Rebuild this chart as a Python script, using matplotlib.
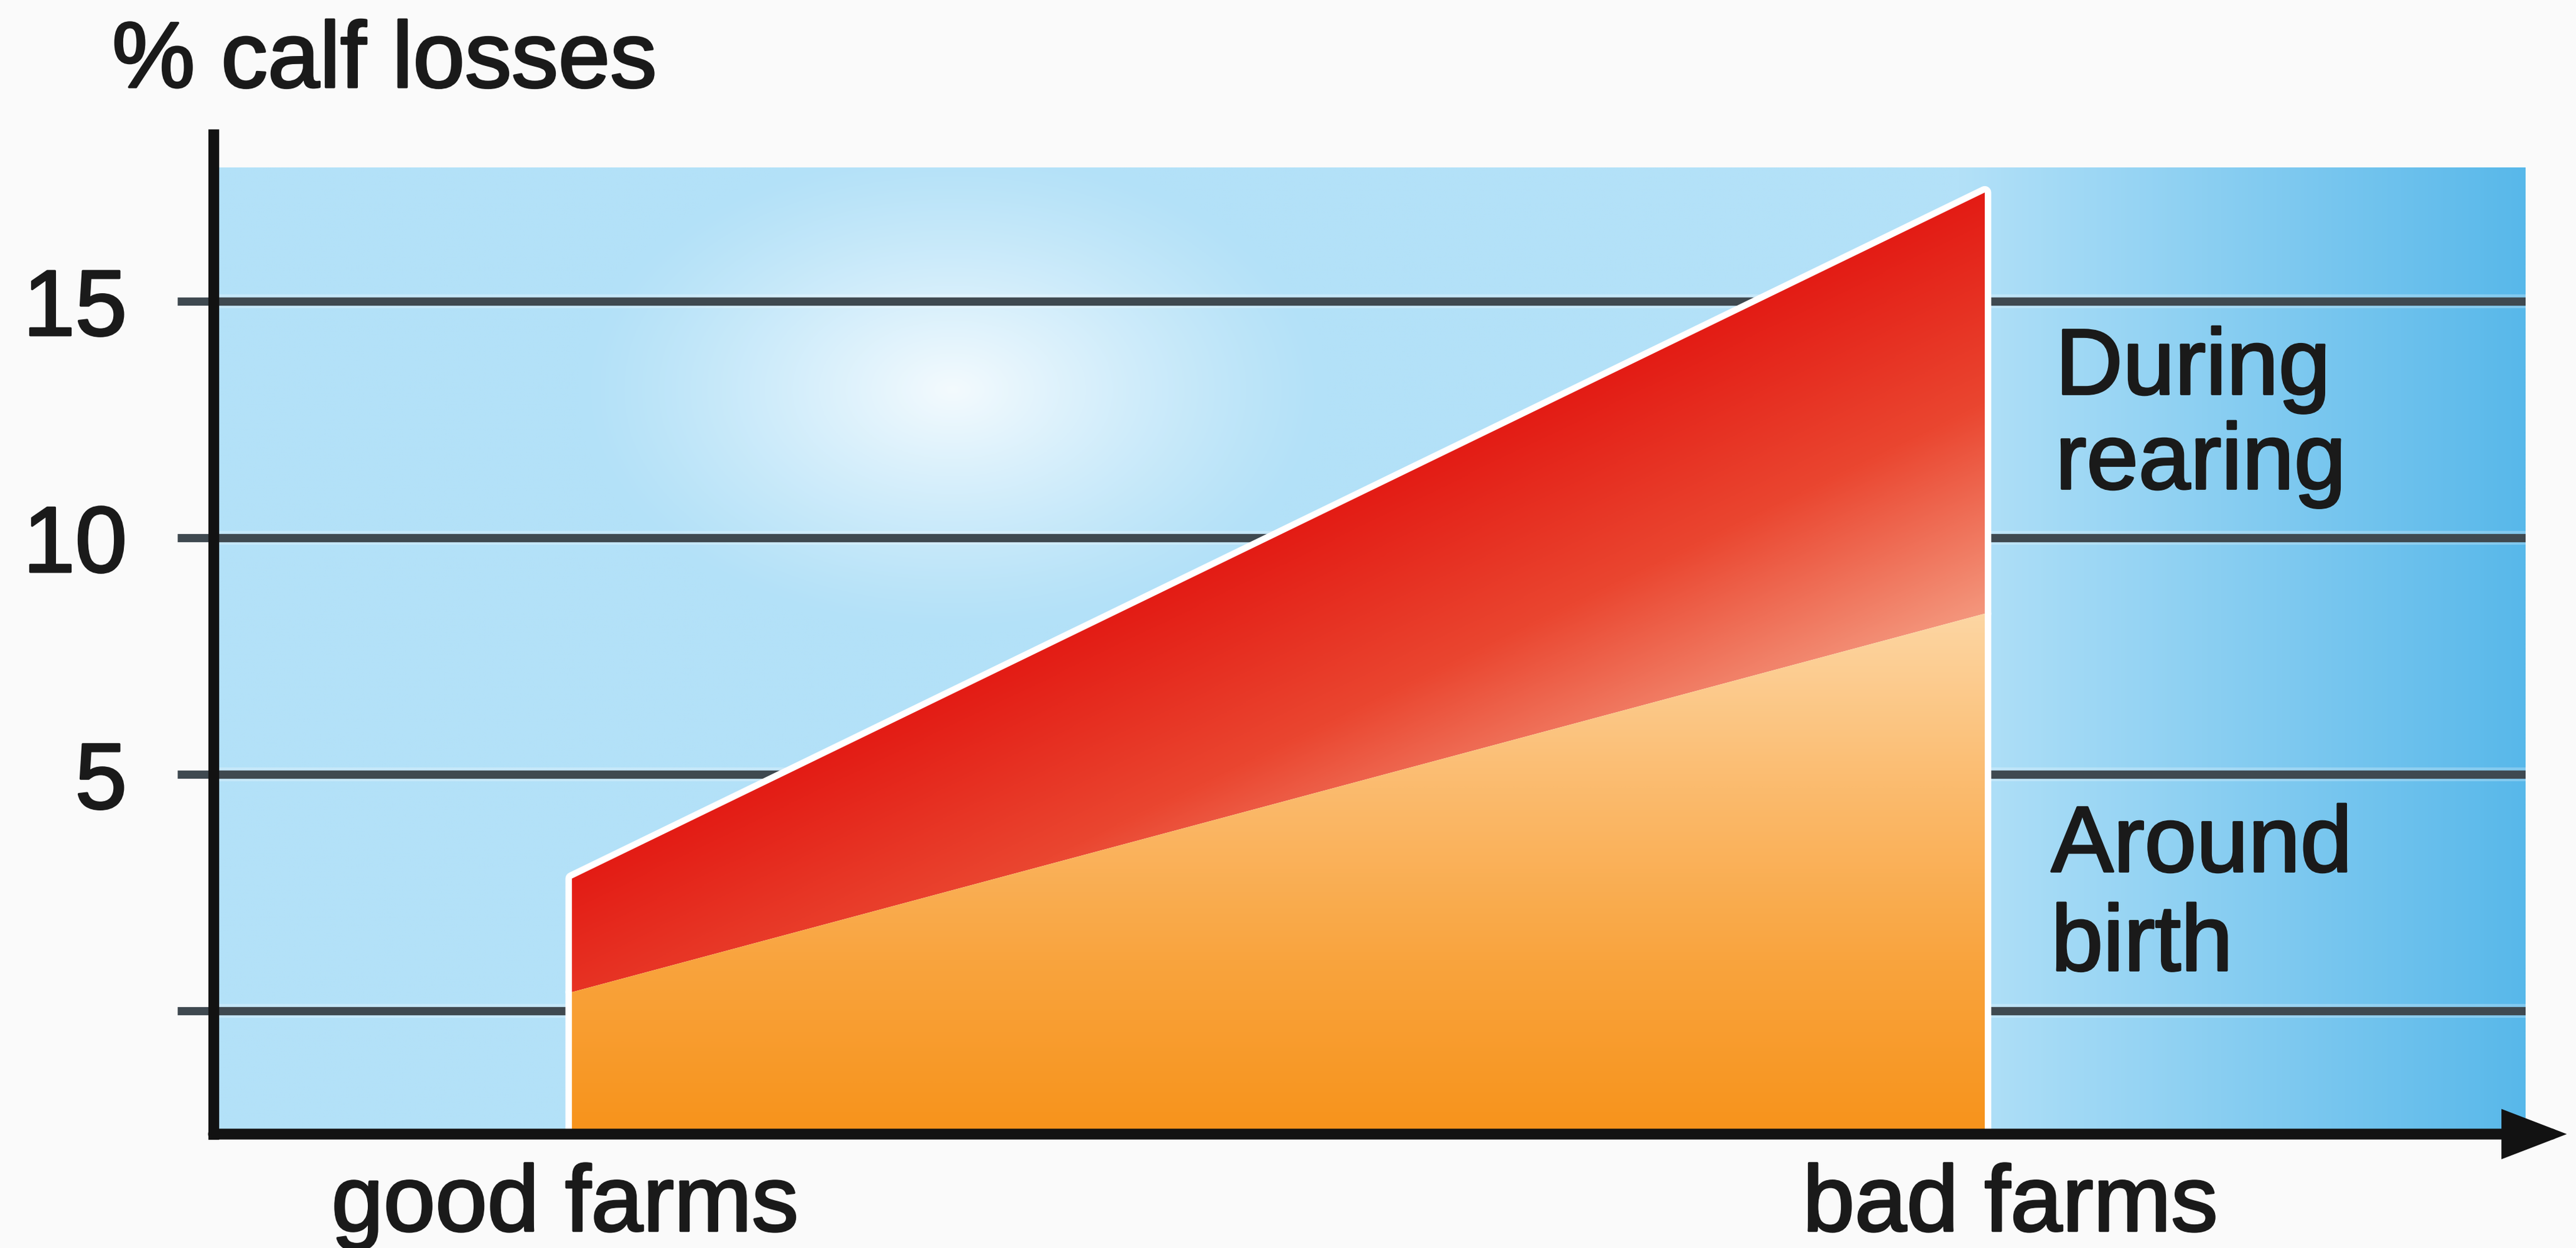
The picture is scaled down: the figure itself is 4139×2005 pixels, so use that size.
import numpy as np
import matplotlib.pyplot as plt
from matplotlib import patheffects as pe
from matplotlib.colors import LinearSegmentedColormap, to_rgb

plt.rcParams['font.family'] = ['Liberation Sans', 'DejaVu Sans']

# calf losses (%) from good to bad farms, stacked
farms = ["good farms", "bad farms"]
farm_x = [0.0, 1.0]
around_birth = [0.4, 8.4]
during_rearing = [2.4, 8.9]
y_ticks = [0, 5, 10, 15]
y_ticklabels = ["", "5", "10", "15"]

xs = np.array(farm_x)
birth = np.array(around_birth)
total = birth + np.array(during_rearing)

W, H, DPI = 4139, 2005, 100
fig = plt.figure(figsize=(W / DPI, H / DPI), dpi=DPI, facecolor="#fafafa")
# plot box in pixels: left 343, right 4058, top 269, bottom 1822
L, R, T, B = 343, 4058, 269, 1822
ax = fig.add_axes([L / W, 1 - B / H, (R - L) / W, (B - T) / H])
x0, x1 = -0.2537, 1.3828
y0, y1 = -2.6, 17.83
sx = (R - L) / (x1 - x0)   # px per x unit
sy = (B - T) / (y1 - y0)   # px per y unit
for s in ax.spines.values():
    s.set_visible(False)
ax.patch.set_visible(False)

# sky-blue panel with a soft white glow and darker right edge
nx, ny = 900, 360
GX, GY = np.meshgrid(np.linspace(0, 1, nx), np.linspace(0, 1, ny))
px = L + GX * (R - L)
py = B - GY * (B - T)
base = np.array(to_rgb("#b3e1f8"))
dark = np.array(to_rgb("#58b8ea"))
t = np.clip((px - 3150) / (R - 3150), 0, 1)[..., None]
bg = base * (1 - t) + dark * t
r = np.sqrt(((px - 1530) / 600) ** 2 + ((py - 625) / 390) ** 2)
w = (np.clip(1 - r, 0, 1) ** 1.2 * 0.85)[..., None]
bg = bg * (1 - w) + w
ax.imshow(bg, extent=(x0, x1, y0, y1), origin="lower", aspect="auto",
          zorder=0, interpolation="bilinear")

# text is a touch heavier than the plain regular face
ink = "#1a1a1a"
heavy = [pe.withStroke(linewidth=2.5, foreground=ink)]

# grid and y ticks
ax.set_yticks(y_ticks, y_ticklabels)
ax.set_xticks([])
ax.tick_params(axis="y", length=42, width=9.5, color="#3f4950", pad=58,
               labelsize=108, labelcolor=ink)
for lab in ax.get_yticklabels():
    lab.set_path_effects(heavy)
ax.grid(axis="y", color="#3f4950", linewidth=9.5)
ax.set_axisbelow(True)
for gl in ax.yaxis.get_gridlines():
    gl.set_path_effects([pe.withStroke(linewidth=16, foreground="white", alpha=0.25),
                         pe.Normal()])

# stacked areas, white rim underneath the gradients
lo = ax.fill_between(xs, y0, birth, facecolor="none", edgecolor="white",
                     linewidth=15, zorder=2)
hi = ax.fill_between(xs, birth, total, facecolor="none", edgecolor="white",
                     linewidth=15, zorder=2)

GXf, GYf = np.meshgrid(np.linspace(0, 1, 500), np.linspace(y0, total.max(), 700))
ext = (0, 1, y0, total.max())

# red band: shade by distance below its top edge
top = total[0] + (total[1] - total[0]) * GXf
theta = np.arctan((total[1] - total[0]) * sy / sx)
d = np.clip((top - GYf) * sy * np.cos(theta) / 610, 0, 1)
red_cm = LinearSegmentedColormap.from_list("red", ["#e31c15", "#ea4630", "#f4977d"])
im_hi = ax.imshow(d, cmap=red_cm, vmin=0, vmax=1, extent=ext, origin="lower",
                  aspect="auto", zorder=3, interpolation="bilinear")
im_hi.set_clip_path(hi.get_paths()[0], ax.transData)

# orange band: pale at top, saturated at the base
o = np.clip((birth.max() - GYf) / (birth.max() - y0), 0, 1)
org_cm = LinearSegmentedColormap.from_list(
    "org", ["#fdd6a3", "#fbbb6e", "#f9a43e", "#f7931b"])
im_lo = ax.imshow(o, cmap=org_cm, vmin=0, vmax=1, extent=ext, origin="lower",
                  aspect="auto", zorder=3, interpolation="bilinear")
im_lo.set_clip_path(lo.get_paths()[0], ax.transData)

# axes with arrow
ax.plot([x0, x0], [y0, 18.53], color="#121212", lw=12.5,
        solid_capstyle="projecting", clip_on=False, zorder=5)
ax.annotate("", xy=(1.412, y0), xytext=(x0, y0), annotation_clip=False,
            arrowprops=dict(arrowstyle="-|>,head_length=0.52,head_width=0.2",
                            mutation_scale=100, lw=12.5, color="#121212",
                            shrinkA=0, shrinkB=0, joinstyle="miter"),
            zorder=5)

# labels
txt = dict(fontsize=108, color=ink, va="baseline", path_effects=heavy)
fig.text(180 / W, 1 - 140 / H, "% calf losses", ha="left", **txt)
for fx, off, name in zip(farm_x, [-0.005, 0.018], farms):
    ax.text(fx + off, -4.645, name, ha="center", clip_on=False, **txt)
ax.text(1.050, 13.04, "During", ha="left", **txt)
ax.text(1.050, 11.04, "rearing", ha="left", **txt)
ax.text(1.047, 2.95, "Around", ha="left", **txt)
ax.text(1.047, 0.86, "birth", ha="left", **txt)

ax.set_xlim(x0, x1)
ax.set_ylim(y0, y1)
fig.savefig("out.png", dpi=DPI, facecolor=fig.get_facecolor())
